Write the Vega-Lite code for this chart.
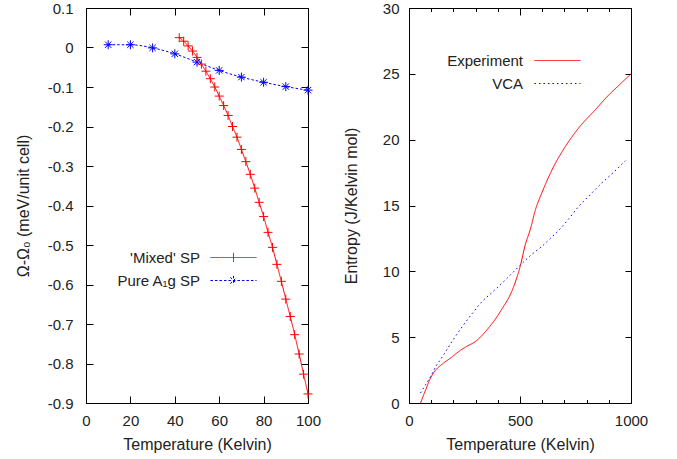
{
  "$schema": "https://vega.github.io/schema/vega-lite/v6.json",
  "padding": {"left": 14, "top": 0, "right": 5, "bottom": 5},
  "background": "white",
  "spacing": 20,
  "resolve": {"scale": {"color": "independent", "strokeDash": "independent"}, "legend": {"color": "independent", "strokeDash": "independent"}},
  "config": {
    "font": "Liberation Sans",
    "view": {"stroke": "#000", "strokeWidth": 1},
    "axis": {"domain": false, "grid": false, "ticks": false, "tickSize": 0, "gridColor": "#000", "gridOpacity": 1, "gridWidth": 1, "labelFont": "Liberation Sans", "titleFont": "Liberation Sans", "labelFontSize": 15, "titleFontSize": 16, "titleFontWeight": "normal", "labelColor": "#222", "titleColor": "#222", "labelFlush": false, "labelOverlap": false},
    "legend": {"labelFont": "Liberation Sans", "labelColor": "#222"}
  },
  "datasets": {
    "omega": [
      {"T": 42, "v": 0.025, "s": "Mixed"}, {"T": 44, "v": 0.016, "s": "Mixed"}, {"T": 46, "v": 0.004, "s": "Mixed"}, {"T": 48, "v": -0.009, "s": "Mixed"}, {"T": 50, "v": -0.025, "s": "Mixed"}, {"T": 52, "v": -0.042, "s": "Mixed"}, {"T": 54, "v": -0.06, "s": "Mixed"}, {"T": 56, "v": -0.079, "s": "Mixed"}, {"T": 58, "v": -0.1, "s": "Mixed"}, {"T": 60, "v": -0.123, "s": "Mixed"}, {"T": 62, "v": -0.147, "s": "Mixed"}, {"T": 64, "v": -0.172, "s": "Mixed"}, {"T": 66, "v": -0.2, "s": "Mixed"}, {"T": 68, "v": -0.227, "s": "Mixed"}, {"T": 70, "v": -0.258, "s": "Mixed"}, {"T": 72, "v": -0.289, "s": "Mixed"}, {"T": 74, "v": -0.321, "s": "Mixed"}, {"T": 76, "v": -0.356, "s": "Mixed"}, {"T": 78, "v": -0.392, "s": "Mixed"}, {"T": 80, "v": -0.428, "s": "Mixed"}, {"T": 82, "v": -0.468, "s": "Mixed"}, {"T": 84, "v": -0.506, "s": "Mixed"}, {"T": 86, "v": -0.549, "s": "Mixed"}, {"T": 88, "v": -0.592, "s": "Mixed"}, {"T": 90, "v": -0.637, "s": "Mixed"}, {"T": 92, "v": -0.681, "s": "Mixed"}, {"T": 94, "v": -0.727, "s": "Mixed"}, {"T": 96, "v": -0.776, "s": "Mixed"}, {"T": 98, "v": -0.827, "s": "Mixed"}, {"T": 100, "v": -0.877, "s": "Mixed"},
      {"T": 10, "v": 0.007, "s": "Pure"}, {"T": 20, "v": 0.007, "s": "Pure"}, {"T": 30, "v": -0.001, "s": "Pure"}, {"T": 40, "v": -0.016, "s": "Pure"}, {"T": 50, "v": -0.037, "s": "Pure"}, {"T": 60, "v": -0.058, "s": "Pure"}, {"T": 70, "v": -0.075, "s": "Pure"}, {"T": 80, "v": -0.088, "s": "Pure"}, {"T": 90, "v": -0.099, "s": "Pure"}, {"T": 100, "v": -0.108, "s": "Pure"}
    ],
    "entropy": [
      {"T": 52, "S": 0, "s": "Experiment"}, {"T": 75, "S": 1.0, "s": "Experiment"}, {"T": 97, "S": 1.9, "s": "Experiment"}, {"T": 120, "S": 2.5, "s": "Experiment"}, {"T": 150, "S": 2.96, "s": "Experiment"}, {"T": 190, "S": 3.45, "s": "Experiment"}, {"T": 225, "S": 3.92, "s": "Experiment"}, {"T": 260, "S": 4.3, "s": "Experiment"}, {"T": 300, "S": 4.68, "s": "Experiment"}, {"T": 352, "S": 5.57, "s": "Experiment"}, {"T": 412, "S": 6.96, "s": "Experiment"}, {"T": 472, "S": 8.86, "s": "Experiment"}, {"T": 501, "S": 10.38, "s": "Experiment"}, {"T": 524, "S": 12.03, "s": "Experiment"}, {"T": 546, "S": 13.16, "s": "Experiment"}, {"T": 570, "S": 14.7, "s": "Experiment"}, {"T": 599, "S": 15.98, "s": "Experiment"}, {"T": 644, "S": 17.7, "s": "Experiment"}, {"T": 704, "S": 19.47, "s": "Experiment"}, {"T": 763, "S": 20.86, "s": "Experiment"}, {"T": 838, "S": 22.25, "s": "Experiment"}, {"T": 906, "S": 23.5, "s": "Experiment"}, {"T": 950, "S": 24.2, "s": "Experiment"}, {"T": 1000, "S": 25.0, "s": "Experiment"},
      {"T": 52, "S": 0.76, "s": "VCA"}, {"T": 75, "S": 1.4, "s": "VCA"}, {"T": 97, "S": 2.0, "s": "VCA"}, {"T": 120, "S": 2.75, "s": "VCA"}, {"T": 150, "S": 3.5, "s": "VCA"}, {"T": 195, "S": 4.7, "s": "VCA"}, {"T": 240, "S": 5.8, "s": "VCA"}, {"T": 285, "S": 6.8, "s": "VCA"}, {"T": 329, "S": 7.7, "s": "VCA"}, {"T": 374, "S": 8.4, "s": "VCA"}, {"T": 419, "S": 9.1, "s": "VCA"}, {"T": 464, "S": 9.85, "s": "VCA"}, {"T": 509, "S": 10.6, "s": "VCA"}, {"T": 554, "S": 11.3, "s": "VCA"}, {"T": 599, "S": 11.9, "s": "VCA"}, {"T": 637, "S": 12.5, "s": "VCA"}, {"T": 674, "S": 13.1, "s": "VCA"}, {"T": 720, "S": 14.0, "s": "VCA"}, {"T": 763, "S": 14.9, "s": "VCA"}, {"T": 815, "S": 15.8, "s": "VCA"}, {"T": 868, "S": 16.7, "s": "VCA"}, {"T": 920, "S": 17.5, "s": "VCA"}, {"T": 975, "S": 18.4, "s": "VCA"}
    ]
  },
  "hconcat": [
    {
      "width": 222,
      "height": 395,
      "data": {"name": "omega"},
      "layer": [
        {
          "mark": {"type": "line", "strokeWidth": 1, "interpolate": "monotone"},
          "encoding": {
            "x": {"field": "T", "type": "quantitative", "scale": {"domain": [0, 100], "nice": false, "zero": false},
              "axis": {"orient": "bottom", "title": "Temperature (Kelvin)", "values": [0, 20, 40, 60, 80, 100], "format": "d", "grid": true, "gridDash": [7, 381, 7, 400], "labelPadding": 10, "titlePadding": 8}},
            "y": {"field": "v", "type": "quantitative", "scale": {"domain": [-0.9, 0.1], "nice": false, "zero": false},
              "axis": {"orient": "left", "title": "Ω-Ω₀ (meV/unit cell)", "values": [0.1, 0, -0.1, -0.2, -0.3, -0.4, -0.5, -0.6, -0.7, -0.8, -0.9], "labelExpr": "(datum.value < 0 ? '-' : '') + (abs(datum.value) < 1e-9 ? '0' : format(abs(datum.value), '.1f'))", "grid": true, "gridDash": [7, 208, 7, 300], "labelPadding": 13, "titlePadding": 16}},
            "color": {"field": "s", "type": "nominal", "scale": {"domain": ["Mixed", "Pure"], "range": ["#ff0000", "#0000ff"]},
              "legend": {"title": null, "orient": "none", "legendX": 140, "legendY": 242, "labelAlign": "right", "labelOffset": -41, "labelFontSize": 15, "rowPadding": 7, "symbolSize": 85, "symbolStrokeWidth": 1,
                "labelExpr": "datum.value == 'Mixed' ? \"'Mixed' SP\" : 'Pure A₁g SP'",
                "encode": {"symbols": {"update": {
                  "shape": {"signal": "datum.value == 'Mixed' ? 'M-5,0H5M0,-1V1' : 'M-5,0H5M0,-1V1M-0.7,-0.7L0.7,0.7M-0.7,0.7L0.7,-0.7'"},
                  "strokeDash": {"signal": "datum.value == 'Mixed' ? [1,0] : [2.5,2]"},
                  "strokeWidth": {"value": 1},
                  "fill": {"value": "transparent"},
                  "opacity": {"value": 1}
                }}}}},
            "strokeDash": {"field": "s", "type": "nominal", "scale": {"domain": ["Mixed", "Pure"], "range": [[1, 0], [2.5, 2]]}, "legend": null}
          }
        },
        {
          "transform": [{"filter": "datum.s == 'Pure'"}],
          "mark": {"type": "point", "filled": false, "strokeWidth": 1, "opacity": 1, "color": "#0000ff", "shape": "M-1,0H1M0,-1V1M-0.7,-0.7L0.7,0.7M-0.7,0.7L0.7,-0.7", "size": 81},
          "encoding": {
            "x": {"field": "T", "type": "quantitative", "scale": {"domain": [0, 100], "nice": false, "zero": false}, "axis": null},
            "y": {"field": "v", "type": "quantitative", "scale": {"domain": [-0.9, 0.1], "nice": false, "zero": false}, "axis": null}
          }
        },
        {
          "transform": [{"filter": "datum.s == 'Mixed'"}],
          "mark": {"type": "point", "filled": false, "strokeWidth": 1, "opacity": 1, "color": "#ff0000", "shape": "M-1,0H1M0,-1V1", "size": 81},
          "encoding": {
            "x": {"field": "T", "type": "quantitative", "scale": {"domain": [0, 100], "nice": false, "zero": false}, "axis": null},
            "y": {"field": "v", "type": "quantitative", "scale": {"domain": [-0.9, 0.1], "nice": false, "zero": false}, "axis": null}
          }
        }
      ],
      "resolve": {"axis": {"x": "independent", "y": "independent"}}
    },
    {
      "width": 222,
      "height": 395,
      "data": {"name": "entropy"},
      "layer": [
        {
          "mark": {"type": "line", "strokeWidth": 1, "interpolate": "monotone"},
          "encoding": {
            "x": {"field": "T", "type": "quantitative", "scale": {"domain": [0, 1000], "nice": false, "zero": false},
              "axis": {"orient": "bottom", "title": "Temperature (Kelvin)", "values": [0, 500, 1000], "format": "d", "grid": true, "gridDash": [7, 381, 7, 400], "labelPadding": 10, "titlePadding": 8}},
            "y": {"field": "S", "type": "quantitative", "scale": {"domain": [0, 30], "nice": false, "zero": false},
              "axis": {"orient": "left", "title": "Entropy (J/Kelvin mol)", "values": [0, 5, 10, 15, 20, 25, 30], "format": "d", "grid": true, "gridDash": [6, 210, 6, 300], "labelPadding": 10, "titlePadding": 23}},
            "color": {"field": "s", "type": "nominal", "scale": {"domain": ["Experiment", "VCA"], "range": ["#ff0000", "#0000ff"]},
              "legend": {"title": null, "orient": "none", "legendX": 141, "legendY": 45, "labelAlign": "right", "labelOffset": -42, "labelFontSize": 15, "rowPadding": 7, "symbolSize": 85, "symbolStrokeWidth": 1,
                "encode": {"symbols": {"update": {
                  "shape": {"value": "M-5,0H5"},
                  "strokeDash": {"signal": "datum.value == 'VCA' ? [1.5,3] : [1,0]"},
                  "strokeWidth": {"value": 1},
                  "fill": {"value": "transparent"},
                  "opacity": {"value": 1}
                }}}}},
            "strokeDash": {"field": "s", "type": "nominal", "scale": {"domain": ["Experiment", "VCA"], "range": [[1, 0], [1.5, 3]]}, "legend": null}
          }
        },
        {
          "mark": {"type": "line", "opacity": 0},
          "encoding": {
            "x": {"field": "T", "type": "quantitative", "scale": {"domain": [0, 1000], "nice": false, "zero": false},
              "axis": {"orient": "bottom", "labels": false, "title": null, "values": [100, 200, 300, 400, 600, 700, 800, 900], "grid": true, "gridDash": [3.5, 388, 3.5, 400]}},
            "y": {"field": "S", "type": "quantitative", "scale": {"domain": [0, 30], "nice": false, "zero": false}, "axis": null}
          }
        }
      ],
      "resolve": {"axis": {"x": "independent", "y": "independent"}}
    }
  ]
}
